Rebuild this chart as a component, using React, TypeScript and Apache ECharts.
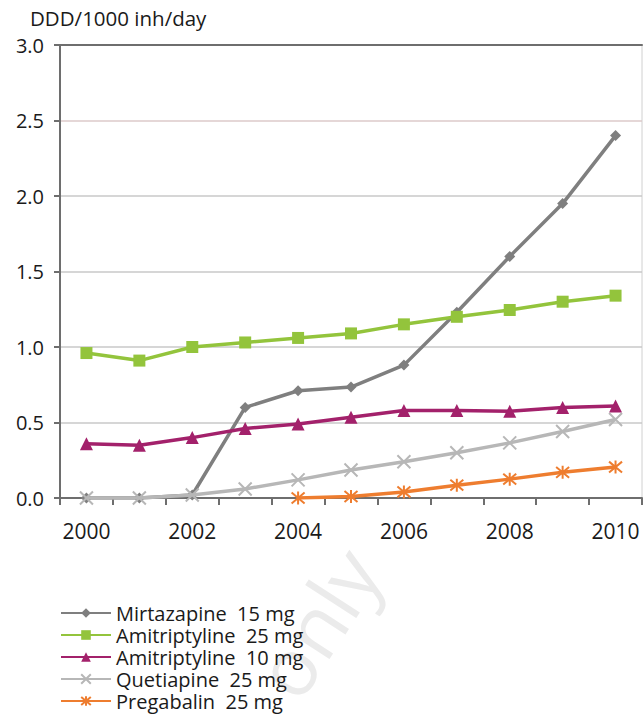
import React, { useEffect, useRef } from "react";
import * as echarts from "echarts";

const years = ["2000", "2001", "2002", "2003", "2004", "2005", "2006", "2007", "2008", "2009", "2010"];
const mirtazapine = [0, 0, 0.02, 0.6, 0.71, 0.735, 0.88, 1.23, 1.6, 1.95, 2.4];
const amitriptyline25 = [0.96, 0.91, 1.0, 1.03, 1.06, 1.09, 1.15, 1.2, 1.245, 1.3, 1.34];
const amitriptyline10 = [0.36, 0.35, 0.4, 0.46, 0.49, 0.535, 0.58, 0.58, 0.575, 0.6, 0.61];
const quetiapine = [0, 0, 0.02, 0.06, 0.12, 0.185, 0.24, 0.3, 0.365, 0.44, 0.52];
const pregabalin = [null, null, null, null, 0, 0.01, 0.04, 0.085, 0.125, 0.17, 0.205];
const seriesNames = ["Mirtazapine  15 mg", "Amitriptyline  25 mg", "Amitriptyline  10 mg", "Quetiapine  25 mg", "Pregabalin  25 mg"];
const yTicks = [0, 0.5, 1.0, 1.5, 2.0, 2.5, 3.0];

const FONT = "'Open Sans', Lato, sans-serif";

export default function App() {
  const ref = useRef<HTMLDivElement>(null);
  useEffect(() => {
    if (!ref.current) return;
    const chart = echarts.init(ref.current, undefined, { renderer: "svg" });
    const xSym = "path://M0,0L10,10M10,0L0,10";
    const starSym = "path://M0,0L10,10M10,0L0,10M5,-1L5,11";
    chart.setOption({
      animation: false,
      backgroundColor: "#ffffff",
      textStyle: { fontFamily: FONT },
      title: {
        text: "DDD/1000 inh/day",
        left: 30,
        top: 7,
        padding: 0,
        textStyle: { fontFamily: FONT, fontSize: 20.5, fontWeight: "normal", color: "#1a1a1a" },
      },
      graphic: [
        {
          type: "text",
          z: -10,
          x: 316,
          y: 622,
          rotation: (57 * Math.PI) / 180,
          style: {
            text: "only",
            fontFamily: FONT,
            fontSize: 80,
            fill: "#ebebeb",
            align: "center",
            verticalAlign: "middle",
          },
        },
      ],
      grid: {
        left: 60,
        right: 2,
        top: 45,
        bottom: 219,
        show: true,
        borderColor: "#d0d0d0",
        borderWidth: 1,
      },
      legend: seriesNames.map((name, i) => ({
        orient: "vertical",
        left: 60,
        top: 603 + i * 22,
        padding: 0,
        itemWidth: 50,
        itemHeight: 12,
        data: [name],
        textStyle: { fontFamily: FONT, fontSize: 20, lineHeight: 20, color: "#1a1a1a" },
      })),
      xAxis: [
        {
          type: "category",
          data: years,
          boundaryGap: true,
          axisLine: { lineStyle: { color: "#6e6e6e", width: 2 } },
          axisTick: { show: true, interval: 0, length: 7, lineStyle: { color: "#6e6e6e", width: 2 } },
          axisLabel: { interval: 1, fontFamily: FONT, fontSize: 21, color: "#1a1a1a", margin: 22 },
          splitLine: { show: false },
        },
        {
          type: "category",
          data: years,
          position: "top",
          axisLine: { show: true, lineStyle: { color: "#6e6e6e", width: 2 } },
          axisTick: { show: false },
          axisLabel: { show: false },
        },
      ],
      yAxis: {
        type: "value",
        min: 0,
        max: 3,
        interval: 0.5,
        axisLine: { show: true, lineStyle: { color: "#6e6e6e", width: 2 } },
        axisTick: { show: true, length: 6, lineStyle: { color: "#6e6e6e", width: 2 } },
        axisLabel: {
          fontFamily: FONT,
          fontSize: 20,
          color: "#1a1a1a",
          margin: 16,
          formatter: (v: number) => (yTicks.includes(v) ? v.toFixed(1) : ""),
        },
        splitLine: {
          show: true,
          lineStyle: {
            color: ["#bbbbbb", "#c8c8c8", "#c8c8c8", "#c8c8c8", "#c8c8c8", "#dccaca", "#6e6e6e"],
            width: 1.5,
          },
        },
      },
      series: [
        {
          name: seriesNames[0],
          type: "line",
          data: mirtazapine,
          symbol: "diamond",
          symbolSize: 11,
          color: "#7f7f7f",
          lineStyle: { width: 3.5 },
          z: 2,
        },
        {
          name: seriesNames[1],
          type: "line",
          data: amitriptyline25,
          symbol: "rect",
          symbolSize: 12,
          color: "#93c43c",
          lineStyle: { width: 3.5 },
          z: 3,
        },
        {
          name: seriesNames[2],
          type: "line",
          data: amitriptyline10,
          symbol: "triangle",
          symbolSize: 13,
          color: "#a3216b",
          lineStyle: { width: 3.5 },
          z: 4,
        },
        {
          name: seriesNames[3],
          type: "line",
          data: quetiapine,
          symbol: xSym,
          symbolSize: 13,
          color: "#b7b7b7",
          itemStyle: { color: "#b7b7b7", borderColor: "#b7b7b7", borderWidth: 2 },
          lineStyle: { width: 3.5 },
          z: 5,
        },
        {
          name: seriesNames[4],
          type: "line",
          data: pregabalin,
          symbol: starSym,
          symbolSize: 13,
          color: "#ee7d2f",
          itemStyle: { color: "#ee7d2f", borderColor: "#ee7d2f", borderWidth: 2 },
          lineStyle: { width: 3.5 },
          z: 6,
        },
      ],
    });
    return () => chart.dispose();
  }, []);
  return <div ref={ref} style={{ width: 644, height: 717, position: "absolute", left: 0, top: 0 }} />;
}
